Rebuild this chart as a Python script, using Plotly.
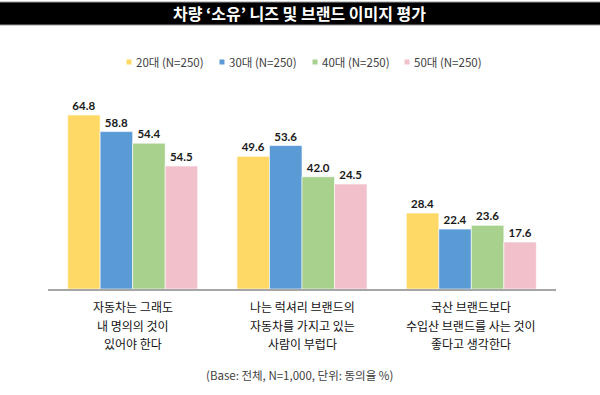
import plotly.graph_objects as go

# ---- data ----
categories = [
    "자동차는 그래도<br>내 명의의 것이<br>있어야 한다",
    "나는 럭셔리 브랜드의<br>자동차를 가지고 있는<br>사람이 부럽다",
    "국산 브랜드보다<br>수입산 브랜드를 사는 것이<br>좋다고 생각한다",
]
series_names = ["20대 (N=250)", "30대 (N=250)", "40대 (N=250)", "50대 (N=250)"]
values_20 = [64.8, 49.4, 28.3]
values_30 = [58.6, 53.4, 22.3]
values_40 = [54.3, 41.8, 23.7]
values_50 = [45.8, 39.1, 17.5]
labels_20 = ["64.8", "49.6", "28.4"]
labels_30 = ["58.8", "53.6", "22.4"]
labels_40 = ["54.4", "42.0", "23.6"]
labels_50 = ["54.5", "24.5", "17.6"]
colors = ["#FFD966", "#5B9BD5", "#A9D18E", "#F2C0CB"]
title = "차량 ‘소유’ 니즈 및 브랜드 이미지 평가"
footnote = "(Base: 전체, N=1,000, 단위: 동의율 %)"

W, H = 600, 395
ML, MR, MT, MB = 48, 44, 101, 106
PW, PH = W - ML - MR, H - MT - MB
FONT = "Noto Sans CJK KR, Noto Sans, sans-serif"

def px(x):
    return (x - ML) / PW

def py(y):
    return (H - MB - y) / PH

fig = go.Figure()
all_vals = [values_20, values_30, values_40, values_50]
all_labels = [labels_20, labels_30, labels_40, labels_50]
for name, vals, labs, col in zip(series_names, all_vals, all_labels, colors):
    fig.add_trace(go.Bar(
        x=categories, y=vals, name=name, text=labs,
        textposition="outside", cliponaxis=False,
        textfont=dict(family="Lato, sans-serif", size=11.5, color="#1a1a1a", weight="bold"),
        marker=dict(color=col, line=dict(color="white", width=0.6)),
        showlegend=False, hoverinfo="skip",
    ))

shapes = []
annotations = []
# title band
shapes.append(dict(type="rect", xref="paper", yref="paper", x0=px(-2), x1=px(602),
                   y0=py(25), y1=py(2), fillcolor="black",
                   line=dict(color="#9a9a9a", width=1)))
annotations.append(dict(text=title, xref="paper", yref="paper", x=px(299), y=py(13.5),
                        showarrow=False, xanchor="center", yanchor="middle",
                        font=dict(family=FONT, size=16, color="white", weight="bold")))
# manual legend
leg_x = [129, 222, 315, 407]
for lx, name, col in zip(leg_x, series_names, colors):
    shapes.append(dict(type="rect", xref="paper", yref="paper",
                       x0=px(lx - 2.5), x1=px(lx + 2.5), y0=py(64.5), y1=py(59.5),
                       fillcolor=col, line=dict(width=0)))
    annotations.append(dict(text=name, xref="paper", yref="paper", x=px(lx + 5), y=py(62),
                            showarrow=False, xanchor="left", yanchor="middle",
                            font=dict(family=FONT, size=11.5, color="#404040")))
# category labels (one annotation per line)
line_y = [306, 325, 343]
for cat in categories:
    for i, line in enumerate(cat.split("<br>")):
        annotations.append(dict(text=line, xref="x", yref="paper", x=cat, y=py(line_y[i]),
                                showarrow=False, xanchor="center", yanchor="middle",
                                font=dict(family=FONT, size=12, color="#111111")))
# footnote
annotations.append(dict(text=footnote, xref="paper", yref="paper", x=px(299.5), y=py(375),
                        showarrow=False, xanchor="center", yanchor="middle",
                        font=dict(family=FONT, size=11.5, color="#404040")))

fig.update_layout(
    width=W, height=H,
    margin=dict(l=ML, r=MR, t=MT, b=MB),
    paper_bgcolor="white", plot_bgcolor="white",
    barmode="group", bargap=0.232, bargroupgap=0,
    xaxis=dict(showticklabels=False, showline=True, linecolor="#A6A6A6", linewidth=1.5,
               ticks="", showgrid=False, zeroline=False),
    yaxis=dict(range=[0, 70], visible=False, showgrid=False, zeroline=False),
    shapes=shapes, annotations=annotations,
)

fig.write_html("out.html", config={"displayModeBar": False},
               post_script="document.body.style.margin='0';document.body.style.overflow='hidden';")
